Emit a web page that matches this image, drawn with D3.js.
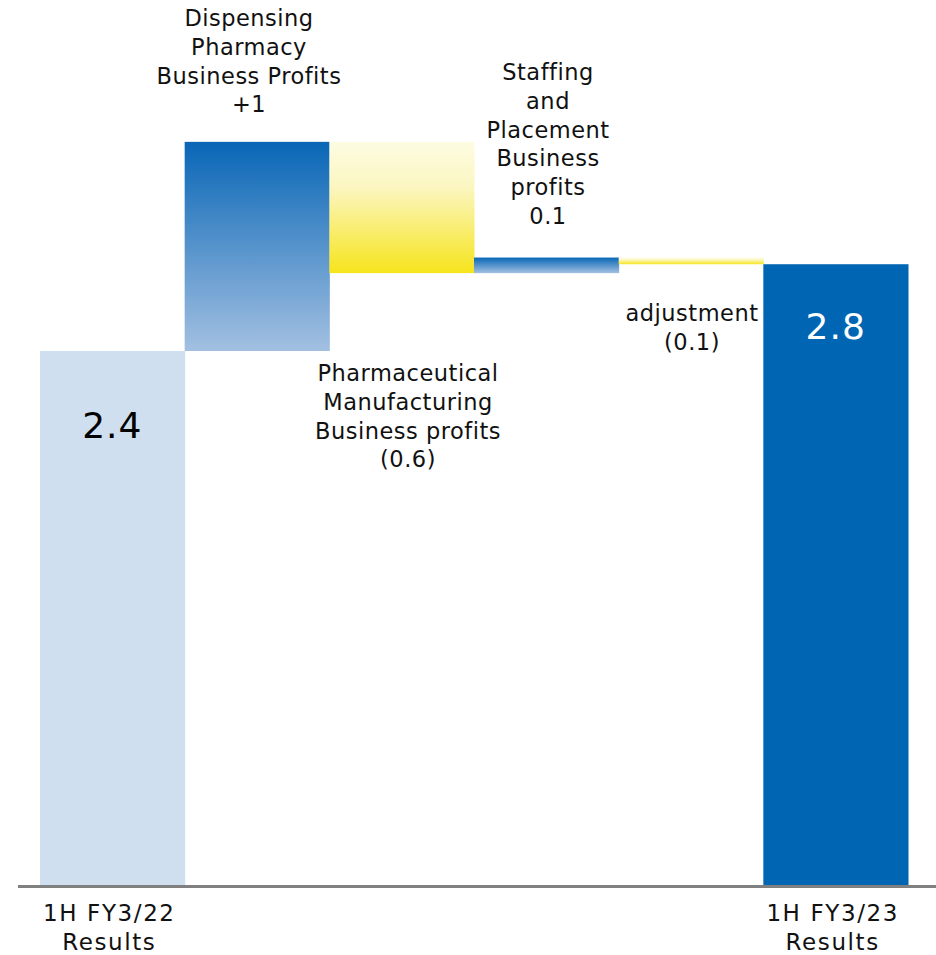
<!DOCTYPE html>
<html>
<head>
<meta charset="utf-8">
<script src="https://cdn.jsdelivr.net/npm/d3@7"></script>
<style>
  html, body { margin: 0; padding: 0; background: #fff; }
  svg { display: block; font-family: "DejaVu Sans", Verdana, sans-serif; }
</style>
</head>
<body>
<div id="app"></div>
<script>
// waterfall steps
const categories = ["start", "dispensing", "pharma", "staffing", "adjustment", "end"];
const kinds = ["total", "delta", "delta", "delta", "delta", "total"];
const values = [2.4, 0.94, -0.59, 0.07, -0.03, 2.79];
const xLabels = [["1H FY3/22", "Results"], [], [], [], [], ["1H FY3/23", "Results"]];
const valueLabels = ["2.4", "", "", "", "", "2.8"];
const stepLabels = [
  [],
  ["Dispensing", "Pharmacy", "Business Profits", "+1"],
  ["Pharmaceutical", "Manufacturing", "Business profits", "(0.6)"],
  ["Staffing", "and", "Placement", "Business", "profits", "0.1"],
  ["adjustment", "(0.1)"],
  [],
];

const width = 936;
const height = 955;
const baseY = 885;

// running totals
let run = 0;
const steps = values.map((v, i) => {
  let y0, y1;
  if (kinds[i] === "total") {
    y0 = 0; y1 = v; run = v;
  } else {
    y0 = run; y1 = run + v; run = y1;
  }
  return { cat: categories[i], kind: kinds[i], v, y0, y1, i };
});

const x = d3.scaleBand().domain(categories).range([40, 908]).padding(0);
const y = d3.scaleLinear().domain([0, 3.4]).range([baseY, baseY - 3.4 * 222.5]);

const svg = d3.select("#app").append("svg")
  .attr("width", width)
  .attr("height", height);

const defs = svg.append("defs");
const blueGrad = defs.append("linearGradient").attr("id", "blue-grad")
  .attr("x1", 0).attr("y1", 0).attr("x2", 0).attr("y2", 1);
blueGrad.append("stop").attr("offset", "0%").attr("stop-color", "#0866b6");
blueGrad.append("stop").attr("offset", "100%").attr("stop-color", "#a3c0e1");

const yellowGrad = defs.append("linearGradient").attr("id", "yellow-grad")
  .attr("x1", 0).attr("y1", 0).attr("x2", 0).attr("y2", 1);
yellowGrad.append("stop").attr("offset", "0%").attr("stop-color", "#fdfce2");
yellowGrad.append("stop").attr("offset", "35%").attr("stop-color", "#fbf6c0");
yellowGrad.append("stop").attr("offset", "100%").attr("stop-color", "#f6e41c");

function fillFor(d) {
  if (d.i === 0) return "#cfdff0";
  if (d.i === categories.length - 1) return "#0066b3";
  return d.v >= 0 ? "url(#blue-grad)" : "url(#yellow-grad)";
}

svg.selectAll("rect.bar")
  .data(steps)
  .enter()
  .append("rect")
  .attr("class", "bar")
  .attr("x", (d) => x(d.cat))
  .attr("width", x.bandwidth() + 0.5)
  .attr("y", (d) => y(Math.max(d.y0, d.y1)))
  .attr("height", (d) => Math.abs(y(d.y0) - y(d.y1)))
  .attr("fill", fillFor);

// baseline
svg.append("line")
  .attr("x1", 18).attr("x2", width)
  .attr("y1", baseY + 1.5).attr("y2", baseY + 1.5)
  .attr("stroke", "#808080")
  .attr("stroke-width", 3);

// value labels inside totals
svg.selectAll("text.value")
  .data(steps.filter((d) => valueLabels[d.i]))
  .enter()
  .append("text")
  .attr("class", "value")
  .attr("x", (d) => x(d.cat) + x.bandwidth() / 2)
  .attr("y", (d) => d.i === 0 ? 438 : 339)
  .attr("text-anchor", "middle")
  .attr("font-size", 36)
  .attr("letter-spacing", 1)
  .attr("fill", (d) => d.i === 0 ? "#000" : "#fff")
  .text((d) => valueLabels[d.i]);

// step labels
const lineH = 28.8;
const labelPos = {
  1: { cx: 249, top: 26 },
  2: { cx: 408, top: 381 },
  3: { cx: 548, top: 80 },
  4: { cx: 692, top: 321 },
};
Object.keys(labelPos).forEach((k) => {
  const i = +k;
  const p = labelPos[i];
  const t = svg.append("text")
    .attr("text-anchor", "middle")
    .attr("font-size", 22.5)
    .attr("letter-spacing", 0.5)
    .attr("fill", "#111");
  stepLabels[i].forEach((line, j) => {
    t.append("tspan").attr("x", p.cx).attr("y", p.top + j * lineH).text(line);
  });
});

// category labels under axis
steps.forEach((d) => {
  if (!xLabels[d.i].length) return;
  const t = svg.append("text")
    .attr("text-anchor", "middle")
    .attr("font-size", 23)
    .attr("letter-spacing", 1.6)
    .attr("fill", "#111");
  xLabels[d.i].forEach((line, j) => {
    t.append("tspan")
      .attr("x", x(d.cat) + x.bandwidth() / 2 - 3)
      .attr("y", 921 + j * 28.5)
      .text(line);
  });
});
</script>
</body>
</html>
